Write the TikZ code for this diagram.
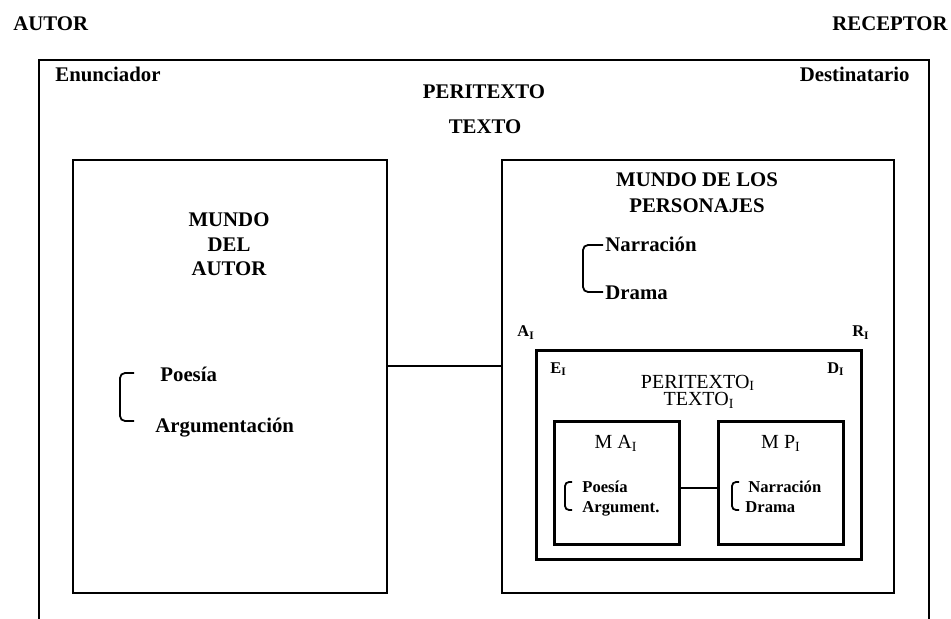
\documentclass[tikz,border=0pt]{standalone}
\usepackage{fontspec}
\setmainfont{Liberation Serif}
\begin{document}
\begin{tikzpicture}[x=0.5pt,y=-0.5pt,
  frame/.style={line width=1.35pt, line join=miter},
  bigbox/.style={draw, line width=1.1pt, inner sep=0pt, anchor=north west},
  smallbox/.style={draw, line width=1.3pt, inner sep=0pt, anchor=north west},
  link/.style={line width=1pt},
  brack/.style={line width=0.9pt, rounded corners=2.5pt},
  lbl/.style={inner sep=0pt, font=\fontsize{10.4}{12}\selectfont\bfseries},
  sublbl/.style={inner sep=0pt, font=\fontsize{10}{11}\selectfont},
  corner/.style={inner sep=0pt, font=\fontsize{8.2}{10}\selectfont\bfseries},
  itemlbl/.style={inner sep=0pt, font=\fontsize{8.3}{10}\selectfont\bfseries}]
\useasboundingbox (0,0) rectangle (951,619);
\fill[white] (0,0) rectangle (951,619);

% top labels
\node[lbl, anchor=base west] (autorlbl) at (13,31) {AUTOR};
\node[lbl, anchor=base east] (receptor) at (948,31) {RECEPTOR};

% outer frame (cut at bottom)
\draw[frame] (39,619) -- (39,60) -- (929,60) -- (929,619);
\node[lbl, anchor=base west] (enun) at (55,82) {Enunciador};
\node[lbl, anchor=base east] (dest) at (910,82) {Destinatario};
\node[lbl, anchor=base] (perit) at (484,99) {PERITEXTO};
\node[lbl, anchor=base] (texto) at (485,134) {TEXTO};

% boxes
\node[bigbox, minimum width=157pt, minimum height=216.5pt] (autor) at (72,159) {};
\node[bigbox, minimum width=196pt, minimum height=216.5pt] (pers) at (501,159) {};
\node[smallbox, minimum width=162.5pt, minimum height=104.5pt] (inner) at (535,349) {};
\node[smallbox, minimum width=62.5pt, minimum height=61.5pt] (ma) at (553,420) {};
\node[smallbox, minimum width=62.5pt, minimum height=61.5pt] (mp) at (717,420) {};

% connectors
\draw[link] ([yshift=5.25pt]autor.east) -- ([yshift=5.25pt]pers.west);
\draw[link] ([yshift=-2.75pt]ma.east) -- ([yshift=-2.75pt]mp.west);

% mundo del autor
\node[lbl, anchor=base] (m1) at (229,227) {MUNDO};
\node[lbl, anchor=base] (m2) at (229,252) {DEL};
\node[lbl, anchor=base] (m3) at (229,276) {AUTOR};
\draw[brack] (134,373) -- (120,373) -- (120,421) -- (134,421);
\node[lbl, anchor=base west] (poes) at (160,382) {Poesía};
\node[lbl, anchor=base west] (argu) at (155,432) {Argumentación};

% mundo de los personajes
\node[lbl, anchor=base] (p1) at (697,187) {MUNDO DE LOS};
\node[lbl, anchor=base] (p2) at (697,213) {PERSONAJES};
\draw[brack] (603,245) -- (583,245) -- (583,292) -- (603,292);
\node[lbl, anchor=base west] (narr) at (605,252) {Narración};
\node[lbl, anchor=base west] (drama) at (605,300) {Drama};
\node[corner, anchor=base west] (ai) at (517,337) {A\textsubscript{I}};
\node[corner, anchor=base east] (ri) at (870,337) {R\textsubscript{I}};

% inner text
\node[corner, anchor=base west] (ei) at (550,373) {E\textsubscript{I}};
\node[corner, anchor=base east] (di) at (845,373) {D\textsubscript{I}};
\node[sublbl, anchor=base] (peri) at (698,388) {PERITEXTO\textsubscript{I}};
\node[sublbl, anchor=base] (texti) at (699,406) {TEXTO\textsubscript{I}};
\node[sublbl, anchor=base] (mai) at (616,448) {M A\textsubscript{I}};
\node[sublbl, anchor=base] (mpi) at (781,448) {M P\textsubscript{I}};

\draw[brack, rounded corners=2pt] (572,482) -- (565,482) -- (565,510) -- (572,510);
\node[itemlbl, anchor=base west] (ipoes) at (582,492) {Poesía};
\node[itemlbl, anchor=base west] (iargu) at (582,512) {Argument.};
\draw[brack, rounded corners=2pt] (739,482) -- (732,482) -- (732,510) -- (739,510);
\node[itemlbl, anchor=base west] (inarr) at (748,492) {Narración};
\node[itemlbl, anchor=base west] (idrama) at (745,512) {Drama};
\end{tikzpicture}
\end{document}
